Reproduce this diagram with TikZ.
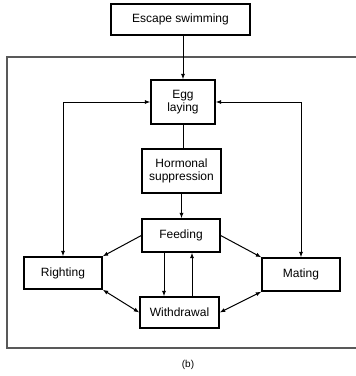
\documentclass[tikz,border=0pt]{standalone}
\usepackage{fontspec}
\setmainfont{Liberation Sans}
\usetikzlibrary{arrows.meta,calc}
\begin{document}
\begin{tikzpicture}[x=1pt,y=-1pt,
  box/.style={draw,line width=1.4pt,inner sep=0pt,align=center,
    font=\fontsize{12}{13.5}\selectfont},
  link/.style={line width=1pt},
  tip/.style={link,-{Latex[length=5.5pt,width=4.2pt]}},
  both/.style={link,{Latex[length=5.5pt,width=4.2pt]}-{Latex[length=5.5pt,width=4.2pt]}}]
\useasboundingbox (0,0) rectangle (356,376);
% enclosing frame (right side runs off the page)
\draw[line width=1.1pt,black!65] (358,57) -- (7,57) -- (7,348) -- (358,348);
% behaviour boxes
\node[box,minimum width=139pt,minimum height=31pt] (esc) at (180.5,19.5) {Escape swimming};
\node[box,minimum width=64pt,minimum height=44pt] (egg) at (183,102) {Egg\\laying};
\node[box,minimum width=79pt,minimum height=44pt] (horm) at (181.5,171) {Hormonal\\suppression};
\node[box,minimum width=78pt,minimum height=33pt] (feed) at (181,235.5) {Feeding};
\node[box,minimum width=78pt,minimum height=32pt] (right) at (63,273) {Righting};
\node[box,minimum width=78pt,minimum height=33pt] (mate) at (301,274.5) {Mating};
\node[box,minimum width=79pt,minimum height=31pt] (wd) at (179.5,312.5) {Withdrawal};
% caption
\node[font=\fontsize{10}{11}\selectfont] (cap) at (188,365) {(b)};
% connectors
\draw[tip] (esc.south -| egg.north) -- (egg.north);
\draw[link] (egg.south) -- (egg.south |- horm.north);
\draw[tip] (horm.south) -- (horm.south |- feed.north);
\draw[both] (egg.west) -- (egg.west -| right.north) -- (right.north);
\draw[both] (egg.east) -- (egg.east -| mate.north) -- (mate.north);
\draw[tip] (feed.west) -- (right.north east);
\draw[tip] (feed.east) -- (mate.north west);
\draw[tip] ([xshift=-17pt]feed.south) -- ([xshift=-17pt]feed.south |- wd.north);
\draw[tip] ([xshift=11pt]feed.south |- wd.north) -- ([xshift=11pt]feed.south);
\draw[both] (right.south east) -- (wd.west);
\draw[both] (mate.south west) -- (wd.east);
\end{tikzpicture}
\end{document}
